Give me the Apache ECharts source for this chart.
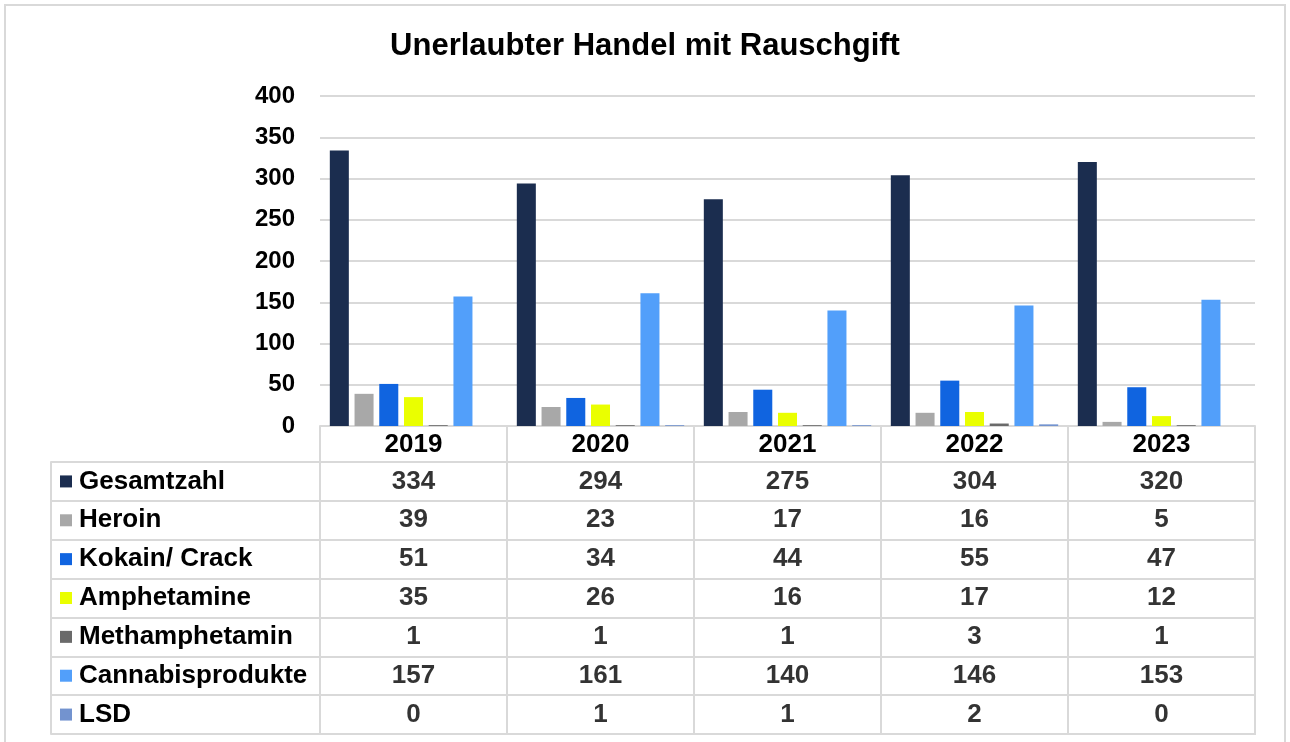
<!DOCTYPE html>
<html>
<head>
<meta charset="utf-8">
<script src="https://cdn.jsdelivr.net/npm/echarts@6/dist/echarts.min.js"></script>
<style>
html,body{margin:0;padding:0;background:#fff;}
#c{width:1290px;height:742px;}
</style>
</head>
<body>
<div id="c"></div>
<script>
// ---- data ----
var years = ['2019', '2020', '2021', '2022', '2023'];
var seriesNames = ['Gesamtzahl', 'Heroin', 'Kokain/ Crack', 'Amphetamine', 'Methamphetamin', 'Cannabisprodukte', 'LSD'];
var gesamtzahl = [334, 294, 275, 304, 320];
var heroin = [39, 23, 17, 16, 5];
var kokain = [51, 34, 44, 55, 47];
var amphetamine = [35, 26, 16, 17, 12];
var methamphetamin = [1, 1, 1, 3, 1];
var cannabis = [157, 161, 140, 146, 153];
var lsd = [0, 1, 1, 2, 0];
var yTicks = [0, 50, 100, 150, 200, 250, 300, 350, 400];

var values = [gesamtzahl, heroin, kokain, amphetamine, methamphetamin, cannabis, lsd];
var colors = ['#1b2d4f', '#a8a8a8', '#1064e0', '#eaff00', '#6a6a6a', '#529ffa', '#7393cf'];

var FONT = "'Liberation Sans', Arial, sans-serif";
var LINE = '#d9d9d9';

var chart = echarts.init(document.getElementById('c'));

var rich = { t: { fontSize: 26, fontWeight: 'bold', color: '#000', fontFamily: FONT, padding: [0, 0, 0, 7] } };
colors.forEach(function (c, i) {
  rich['s' + i] = { width: 12, height: 12, backgroundColor: c };
});

var barSeries = values.map(function (arr, i) {
  return {
    name: seriesNames[i],
    type: 'bar',
    xAxisIndex: 0,
    yAxisIndex: 0,
    data: arr,
    barGap: '30%',
    barCategoryGap: '10.5%',
    itemStyle: { color: colors[i] },
    silent: true
  };
});

var cellData = [];
values.forEach(function (arr, r) {
  arr.forEach(function (v, c) {
    cellData.push([c, r, v]);
  });
});

var option = {
  backgroundColor: '#fff',
  animation: false,
  textStyle: { fontFamily: FONT },
  title: {
    text: 'Unerlaubter Handel mit Rauschgift',
    left: 'center',
    top: 26,
    textStyle: { fontSize: 31, fontWeight: 'bold', color: '#000', fontFamily: FONT }
  },
  graphic: [{
    type: 'rect',
    shape: { x: 5, y: 5, width: 1280, height: 745 },
    style: { fill: 'none', stroke: LINE, lineWidth: 2 },
    silent: true
  }],
  grid: [
    { left: 320, right: 35, top: 96, bottom: 316 },
    { left: 320, right: 35, top: 462, height: 272, show: true, borderColor: LINE, borderWidth: 2 }
  ],
  xAxis: [
    {
      type: 'category', gridIndex: 0, data: years,
      axisLine: { show: true, lineStyle: { color: LINE, width: 2 } },
      axisTick: { show: true, interval: 0, length: 36, lineStyle: { color: LINE, width: 2 } },
      axisLabel: { interval: 0, margin: 6, fontSize: 26, fontWeight: 'bold', color: '#000', fontFamily: FONT }
    },
    {
      type: 'category', gridIndex: 1, data: years,
      axisLine: { show: false }, axisTick: { show: false }, axisLabel: { show: false },
      splitLine: { show: true, interval: 0, lineStyle: { color: LINE, width: 2 } }
    }
  ],
  yAxis: [
    {
      type: 'value', gridIndex: 0, min: 0, max: 400, interval: 50,
      axisLine: { show: false }, axisTick: { show: false },
      axisLabel: { margin: 25, fontSize: 24, fontWeight: 'bold', color: '#000', fontFamily: FONT,
        formatter: function (v) { return yTicks.indexOf(v) >= 0 ? String(v) : ''; } },
      splitLine: { show: true, lineStyle: { color: LINE, width: 2 } }
    },
    {
      type: 'category', gridIndex: 1, data: seriesNames, inverse: true,
      axisLine: { show: false },
      axisTick: { show: true, interval: 0, length: 269, lineStyle: { color: LINE, width: 2 } },
      axisLabel: {
        interval: 0, align: 'left', margin: 260,
        formatter: function (v, i) { return '{s' + i + '|}{t|' + v + '}'; },
        rich: rich
      },
      splitLine: { show: true, interval: 0, lineStyle: { color: LINE, width: 2 } }
    },
    {
      type: 'category', gridIndex: 1, data: seriesNames, inverse: true,
      position: 'left', offset: 269,
      axisLine: { show: true, lineStyle: { color: LINE, width: 2 } },
      axisTick: { show: false }, axisLabel: { show: false }, splitLine: { show: false }
    }
  ],
  series: barSeries.concat([{
    type: 'scatter',
    xAxisIndex: 1,
    yAxisIndex: 1,
    data: cellData,
    symbolSize: 1,
    itemStyle: { color: 'rgba(0,0,0,0)' },
    silent: true,
    label: {
      show: true, position: 'inside',
      formatter: function (p) { return String(p.value[2]); },
      fontSize: 26, fontWeight: 'bold', color: '#000', fontFamily: FONT
    }
  }])
};

chart.setOption(option);
</script>
</body>
</html>
